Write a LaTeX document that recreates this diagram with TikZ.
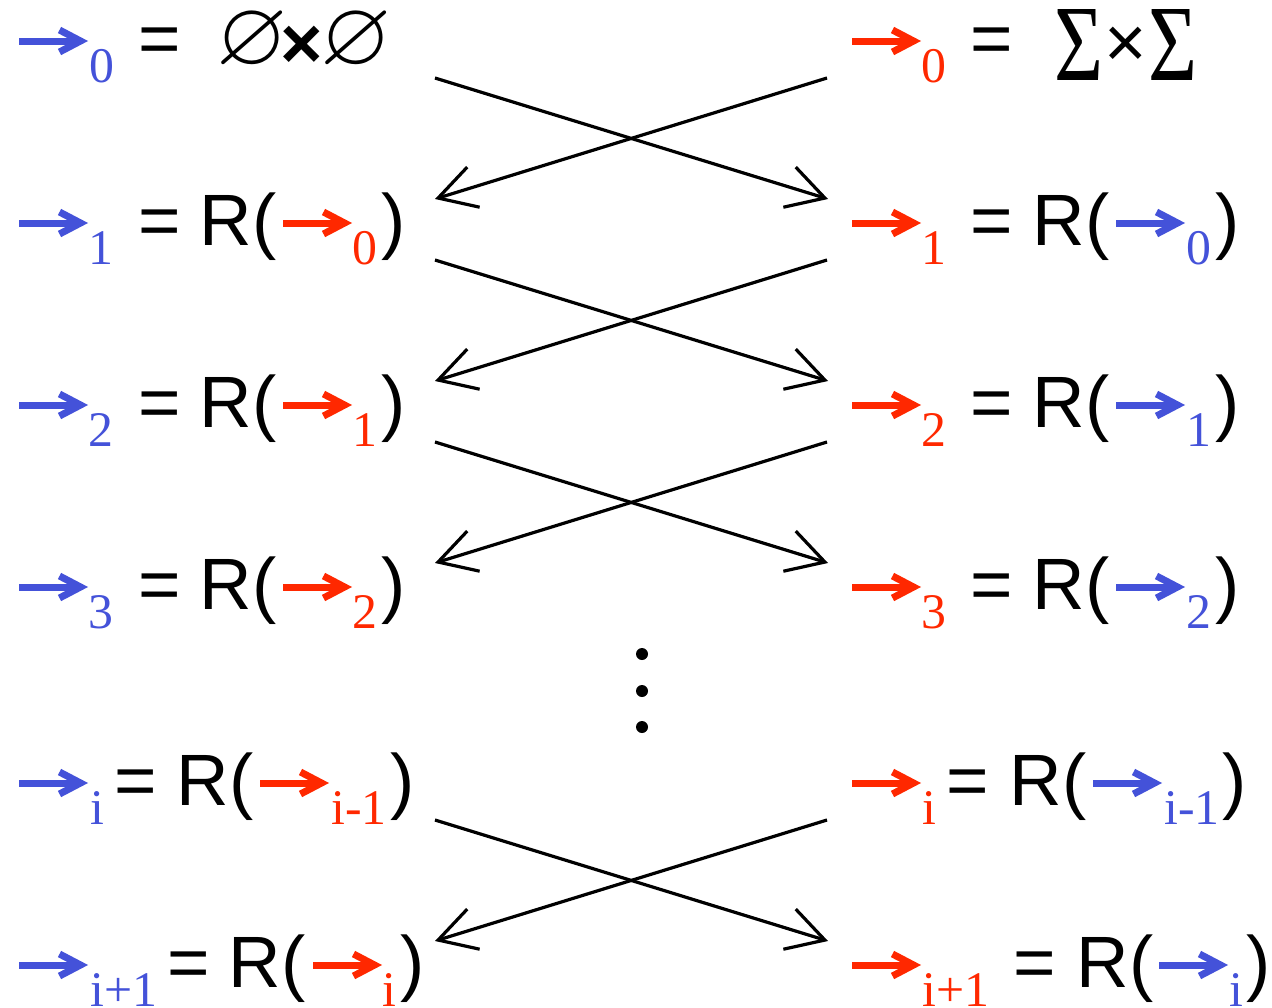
\documentclass[tikz,border=0pt]{standalone}
\usepackage{amssymb}
\usepackage{graphicx}
\usepackage{fontspec}
\setmainfont{Liberation Sans}
\newfontfamily\serifsub{Liberation Serif}
\usetikzlibrary{arrows.meta}
\definecolor{bl}{RGB}{68,82,217}
\definecolor{rd}{RGB}{255,40,0}
\newcommand\bigsig{\resizebox{49bp}{71bp}{\serifsub\fontsize{73}{73}\selectfont Σ}}
\tikzset{
  txt/.style={anchor=base west, inner sep=0pt, font=\fontsize{73}{73}\selectfont},
  subtxt/.style={anchor=base west, inner sep=0pt, font=\serifsub\fontsize{50}{50}\selectfont},
  bsub/.style={subtxt, text=bl},
  rsub/.style={subtxt, text=rd},
  emptyset/.style={anchor=base west, inner sep=0pt, font=\fontsize{92}{92}\selectfont},
  sigma/.style={anchor=base west, inner sep=0pt},
  harr/.pic={
    \draw[line width=7bp] (0,0) -- (60,0);
    \draw[line width=7bp, miter limit=10] (40.5,-11) -- (61.5,0) -- (40.5,11);
  },
  cross/.style={line width=3.2bp, -{Straight Barb[length=37bp,width=42bp]}},
  dotc/.style={circle, fill=black, inner sep=0pt, minimum size=12bp}
}
\begin{document}
\begin{tikzpicture}[x=1bp,y=-1bp]
\useasboundingbox (0,0) rectangle (1272,1008);
% ---- row 0 ----
\pic[color=bl] at (19,41) {harr};
\node[bsub] (Ls0) at (89,82) {0};
\node[txt] (Le0) at (138,63) {=};
\node[emptyset] (Le1set) at (216,64) {$\varnothing$};
\node[txt, font=\bfseries\fontsize{73}{73}\selectfont] (Lx0) at (280,68) {×};
\node[emptyset] (Le2set) at (320,64) {$\varnothing$};
\pic[color=rd] at (852,41) {harr};
\node[rsub] (Rs0) at (921,82) {0};
\node[txt] (Re0) at (970,63) {=};
\node[sigma] (Rsig1) at (1054,80) {\bigsig};
\node[txt] (Rx0) at (1104,67) {×};
\node[sigma] (Rsig2) at (1148,80) {\bigsig};
% ---- rows 1..3 ----
\foreach \k/\t in {1/0,2/1,3/2}{
  \pgfmathsetmacro\ya{41+182*\k}
  \pgfmathsetmacro\yr{\ya+22}
  \pgfmathsetmacro\ys{\ya+41}
  \pic[color=bl] at (19,\ya) {harr};
  \node[bsub] (Ls\k) at (88.5,\ys) {\k};
  \node[txt] (Le\k) at (138,\yr) {=};
  \node[txt] (LR\k) at (199.5,\yr) {R(};
  \pic[color=rd] at (283,\ya) {harr};
  \node[rsub] (Lt\k) at (352.5,\ys) {\t};
  \node[txt] (Lp\k) at (381.5,\yr) {)};
  \pic[color=rd] at (852,\ya) {harr};
  \node[rsub] (Rs\k) at (921.5,\ys) {\k};
  \node[txt] (Re\k) at (970,\yr) {=};
  \node[txt] (RR\k) at (1032.5,\yr) {R(};
  \pic[color=bl] at (1116,\ya) {harr};
  \node[bsub] (Rt\k) at (1186,\ys) {\t};
  \node[txt] (Rp\k) at (1215.5,\yr) {)};
}
% ---- row i ----
\pic[color=bl] at (19,783) {harr};
\node[bsub] (Lsi) at (90,824) {i};
\node[txt] (Lei) at (114,805) {=};
\node[txt] (LRi) at (176.5,805) {R(};
\pic[color=rd] at (260,783) {harr};
\node[rsub] (Lti) at (331,824) {i-1};
\node[txt] (Lpi) at (390,805) {)};
\pic[color=rd] at (852,783) {harr};
\node[rsub] (Rsi) at (922,824) {i};
\node[txt] (Rei) at (946,805) {=};
\node[txt] (RRi) at (1009.5,805) {R(};
\pic[color=bl] at (1093,783) {harr};
\node[bsub] (Rti) at (1164,824) {i-1};
\node[txt] (Rpi) at (1222.5,805) {)};
% ---- row i+1 ----
\pic[color=bl] at (19,965) {harr};
\node[bsub] (Lsj) at (90,1006) {i+1};
\node[txt] (Lej) at (167,987) {=};
\node[txt] (LRj) at (228.5,987) {R(};
\pic[color=rd] at (313,965) {harr};
\node[rsub] (Ltj) at (382,1006) {i};
\node[txt] (Lpj) at (400,987) {)};
\pic[color=rd] at (852,965) {harr};
\node[rsub] (Rsj) at (922,1006) {i+1};
\node[txt] (Rej) at (1013,987) {=};
\node[txt] (RRj) at (1076.5,987) {R(};
\pic[color=bl] at (1159,965) {harr};
\node[bsub] (Rtj) at (1229,1006) {i};
\node[txt] (Rpj) at (1246.5,987) {)};
% ---- dots ----
\node[dotc] (d1) at (642,654) {};
\node[dotc] (d2) at (642,691) {};
\node[dotc] (d3) at (642,727) {};
% ---- crossing connectors ----
\foreach \n/\T in {1/78,2/260,3/442,4/820}{
  \pgfmathsetmacro\B{\T+121}
  \coordinate (A\n) at (435,\T);
  \coordinate (B\n) at (828,\B);
  \coordinate (C\n) at (827,\T);
  \coordinate (D\n) at (435,\B);
  \draw[cross] (A\n) -- (B\n);
  \draw[cross] (C\n) -- (D\n);
}
\end{tikzpicture}
\end{document}
